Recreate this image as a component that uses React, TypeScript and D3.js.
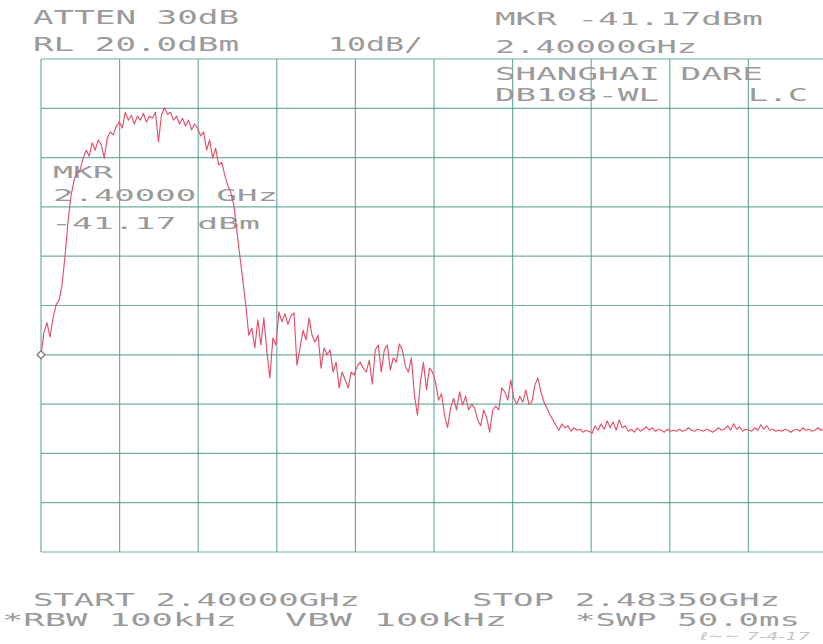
import React from "react";
import * as d3 from "d3";

// Sweep settings
const START_MHZ = 2400.0;
const STOP_MHZ = 2483.5;
const REF_LEVEL = 20; // dBm, top of graticule
const DB_PER_DIV = 10;
const DIVS = 10;

// Trace levels (dBm), one per sweep point
const LEVELS: number[] = [
  -40.0, -35.4, -33.5, -36.4, -32.5, -29.9, -28.9, -25.8, -19.8, -12.7,
  -7.6, -4.5, -2.9, -2.5, -0.1, 1.5, 0.3, 3.0, 1.5, 3.6,
  2.6, -0.1, 4.0, 5.2, 4.6, 6.4, 7.2, 6.0, 9.2, 7.6,
  8.6, 6.8, 8.4, 7.6, 9.0, 7.2, 8.4, 8.0, 9.2, 3.2,
  8.6, 10.1, 8.8, 9.2, 7.6, 8.4, 6.8, 8.0, 6.4, 7.6,
  5.6, 6.8, 6.0, 4.4, 5.2, 1.5, 3.6, -0.1, 1.9, -1.5,
  -0.9, -3.5, -5.6, -7.0, -9.6, -14.7, -19.8, -24.8, -29.9, -36.0,
  -34.6, -38.6, -32.9, -38.0, -32.5, -39.4, -44.7, -36.6, -38.0, -31.3,
  -33.3, -31.7, -33.8, -32.1, -31.5, -42.1, -38.6, -35.0, -37.0, -32.5,
  -36.0, -37.4, -36.0, -42.7, -38.6, -40.0, -39.0, -43.5, -41.5, -46.7,
  -43.5, -45.1, -46.7, -43.5, -44.1, -42.3, -41.5, -42.7, -43.5, -41.1,
  -45.9, -39.0, -38.0, -43.5, -39.0, -38.0, -43.1, -40.6, -41.5, -37.8,
  -39.0, -42.3, -43.5, -40.6, -48.2, -52.2, -45.5, -41.5, -47.1, -42.7,
  -43.5, -45.5, -49.2, -47.9, -52.2, -54.8, -50.8, -48.8, -51.2, -47.5,
  -50.2, -48.4, -51.2, -50.0, -50.8, -53.2, -54.4, -51.2, -52.8, -55.7,
  -51.2, -50.4, -51.2, -46.7, -47.5, -49.2, -45.1, -48.8, -50.0, -48.4,
  -49.6, -47.1, -50.0, -49.6, -46.1, -44.7, -47.5, -49.6, -50.8, -52.2,
  -53.2, -54.4, -55.3, -54.0, -54.8, -54.4, -55.5, -54.8, -55.3, -55.1,
  -55.7, -55.3, -55.5, -55.9, -54.4, -55.3, -54.0, -55.1, -53.4, -54.8,
  -53.6, -55.3, -53.2, -54.8, -54.4, -55.5, -55.1, -55.7, -54.8, -55.5,
  -55.1, -54.6, -55.3, -54.8, -55.5, -55.1, -55.3, -55.7, -55.1, -55.5,
  -55.3, -55.5, -55.1, -55.5, -55.3, -54.8, -55.3, -55.5, -55.1, -55.3,
  -55.5, -55.1, -55.3, -55.7, -55.3, -54.8, -55.3, -55.1, -54.4, -55.3,
  -54.0, -55.1, -54.6, -55.5, -55.1, -55.3, -55.5, -54.8, -55.3, -54.2,
  -55.1, -54.4, -55.3, -55.1, -55.5, -55.3, -55.5, -55.1, -55.3, -55.7,
  -55.3, -55.1, -55.5, -54.8, -55.3, -55.1, -55.5, -55.3, -54.8, -55.3,
  -55.1, -55.3,
];

// Header / footer annotation texts
const HEADER_LEFT = ["ATTEN 30dB", "RL 20.0dBm"];
const SCALE_LABEL = "10dB/";
const HEADER_RIGHT = ["MKR -41.17dBm", "2.40000GHz", "SHANGHAI DARE", "DB108-WL"];
const OPERATOR_LABEL = "L.C";
const MARKER_TEXT = ["MKR", "2.40000 GHz", "-41.17 dBm"];
const FOOTER_TOP = ["START 2.40000GHz", "STOP 2.48350GHz"];
const FOOTER_BOTTOM = ["*RBW 100kHz", "VBW 100kHz", "*SWP 50.0ms"];
const SIGNATURE = "ℓ∼∼ 7-4-17";

const W = 823;
const H = 644;

export default function App() {
  const x = d3.scaleLinear().domain([START_MHZ, STOP_MHZ]).range([41, 827]);
  const y = d3
    .scaleLinear()
    .domain([REF_LEVEL, REF_LEVEL - DB_PER_DIV * DIVS])
    .range([59, 552]);

  const step = (STOP_MHZ - START_MHZ) / (LEVELS.length - 1);
  const pts: [number, number][] = LEVELS.map((v, i) => [START_MHZ + i * step, v]);

  const line = d3
    .line<[number, number]>()
    .x((d) => x(d[0]))
    .y((d) => y(d[1]));

  const xTicks = d3.range(DIVS + 1).map((k) => START_MHZ + (k * (STOP_MHZ - START_MHZ)) / DIVS);
  const yTicks = d3.range(DIVS + 1).map((k) => REF_LEVEL - k * DB_PER_DIV);

  const gridColor = "#4f9a8a";
  const textColor = "#9a9a9a";
  const traceColor = "#e4506a";
  const font = "'DejaVu Sans Mono', 'Liberation Mono', monospace";

  const T = (
    s: string,
    tx: number,
    ty: number,
    len: number,
    fs: number,
    key: string,
    fill = textColor
  ) => (
    <text
      key={key}
      x={tx}
      y={ty}
      textLength={len}
      lengthAdjust="spacingAndGlyphs"
      fontSize={fs}
      fontFamily={font}
      fill={fill}
    >
      {s}
    </text>
  );

  const mk = pts[0];
  const mx = x(mk[0]);
  const my = y(mk[1]);

  return (
    <svg
      width={W}
      height={H}
      style={{ position: "absolute", left: 0, top: 0, background: "#ffffff" }}
    >
      <rect x={0} y={0} width={W} height={H} fill="#ffffff" />
      <g>
        {xTicks.map((t, i) => (
          <line
            key={"vx" + i}
            x1={x(t)}
            x2={x(t)}
            y1={y(yTicks[0])}
            y2={y(yTicks[yTicks.length - 1])}
            stroke={gridColor}
            strokeWidth={1.2}
            strokeOpacity={0.8}
          />
        ))}
        {yTicks.map((t, i) => (
          <line
            key={"hy" + i}
            x1={x(xTicks[0])}
            x2={x(xTicks[xTicks.length - 1])}
            y1={y(t)}
            y2={y(t)}
            stroke={gridColor}
            strokeWidth={1.2}
            strokeOpacity={0.8}
          />
        ))}
      </g>

      {T(HEADER_LEFT[0], 33, 24, 206, 19, "h0")}
      {T(HEADER_LEFT[1], 33, 51, 206, 19, "h1")}
      {T(SCALE_LABEL, 328, 51, 95, 19, "h2")}
      {T(HEADER_RIGHT[0], 495, 25, 268, 18, "r0")}
      {T(HEADER_RIGHT[1], 495, 53, 202, 18, "r1")}
      {T(HEADER_RIGHT[2], 495, 80, 268, 17, "r2")}
      {T(HEADER_RIGHT[3], 495, 101, 164, 17, "r3")}
      {T(OPERATOR_LABEL, 748, 101, 60, 17, "r4")}

      {T(MARKER_TEXT[0], 53, 178, 60, 15, "m0")}
      {T(MARKER_TEXT[1], 53, 201, 225, 16, "m1")}
      {T(MARKER_TEXT[2], 51, 229, 209, 16, "m2")}

      <path d={line(pts) || ""} fill="none" stroke={traceColor} strokeWidth={1.15} strokeLinejoin="round" />

      <path
        d={`M${mx - 4},${my} L${mx},${my - 4} L${mx + 4},${my} L${mx},${my + 4} Z`}
        fill="#ffffff"
        stroke="#808080"
        strokeWidth={1.4}
      />

      {T(FOOTER_TOP[0], 33, 606, 327, 17, "f0")}
      {T(FOOTER_TOP[1], 472, 606, 308, 17, "f1")}
      {T(FOOTER_BOTTOM[0], 2, 626, 235, 17, "f2")}
      {T(FOOTER_BOTTOM[1], 285, 626, 222, 17, "f3")}
      {T(FOOTER_BOTTOM[2], 575, 626, 225, 17, "f4")}

      <text
        x={700}
        y={640}
        textLength={110}
        lengthAdjust="spacingAndGlyphs"
        fontSize={11}
        fontStyle="italic"
        fontFamily="'DejaVu Sans', sans-serif"
        fill="#c4c4c4"
      >
        {SIGNATURE}
      </text>
    </svg>
  );
}
